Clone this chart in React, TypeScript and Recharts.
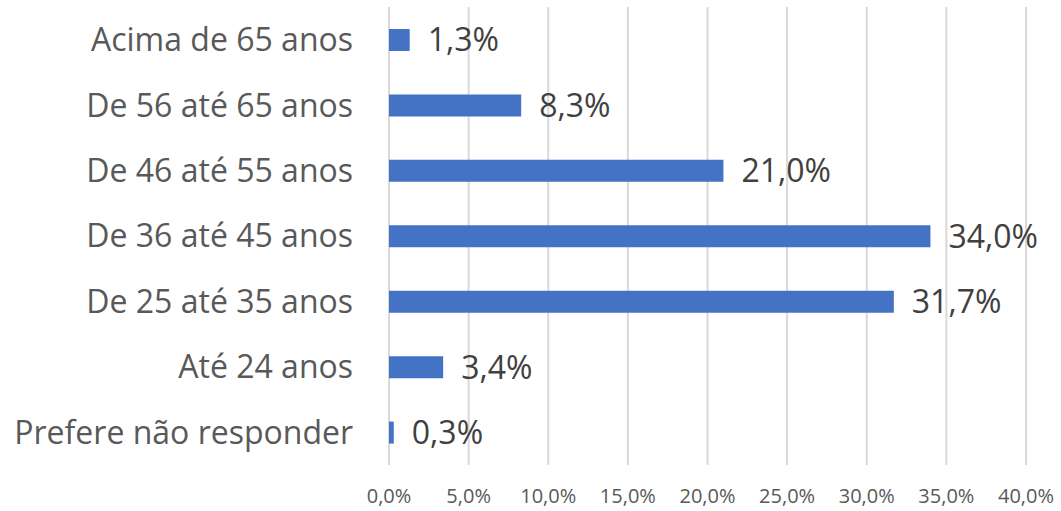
import React from 'react';
import { BarChart, Bar, XAxis, YAxis, CartesianGrid, LabelList } from 'recharts';

const categories = [
  'Acima de 65 anos',
  'De 56 até 65 anos',
  'De 46 até 55 anos',
  'De 36 até 45 anos',
  'De 25 até 35 anos',
  'Até 24 anos',
  'Prefere não responder',
];
const values = [1.3, 8.3, 21.0, 34.0, 31.7, 3.4, 0.3];
const xTicks = [0, 5, 10, 15, 20, 25, 30, 35, 40];

const data = categories.map((c, i) => ({ name: c, value: values[i] }));
const fmt = (v: number) => v.toFixed(1).replace('.', ',') + '%';
const FONT = '"Open Sans", sans-serif';

export default function App() {
  return (
    <div style={{ position: 'fixed', left: 0, top: 0, width: 1061, height: 511, background: '#fff' }}>
      <BarChart
        width={1061}
        height={511}
        data={data}
        layout="vertical"
        margin={{ top: 7, right: 35, left: 0, bottom: 0 }}
        barCategoryGap={0}
      >
        <CartesianGrid horizontal={false} stroke="#d9d9d9" strokeWidth={2} />
        <XAxis
          type="number"
          domain={[0, 40]}
          ticks={xTicks}
          tickFormatter={fmt}
          axisLine={false}
          tickLine={false}
          height={46}
          tickMargin={18}
          tick={{ fill: '#595959', fontSize: 20, fontFamily: FONT }}
        />
        <YAxis
          type="category"
          dataKey="name"
          width={389}
          axisLine={false}
          tickLine={false}
          tickMargin={30}
          tick={{ fill: '#595959', fontSize: 32, fontFamily: FONT }}
          interval={0}
        />
        <Bar dataKey="value" fill="#4472c4" barSize={22} isAnimationActive={false}>
          <LabelList
            dataKey="value"
            position="right"
            offset={18}
            formatter={(v: number) => fmt(v)}
            style={{ fill: '#404040', fontSize: 32, fontFamily: FONT }}
          />
        </Bar>
      </BarChart>
    </div>
  );
}
